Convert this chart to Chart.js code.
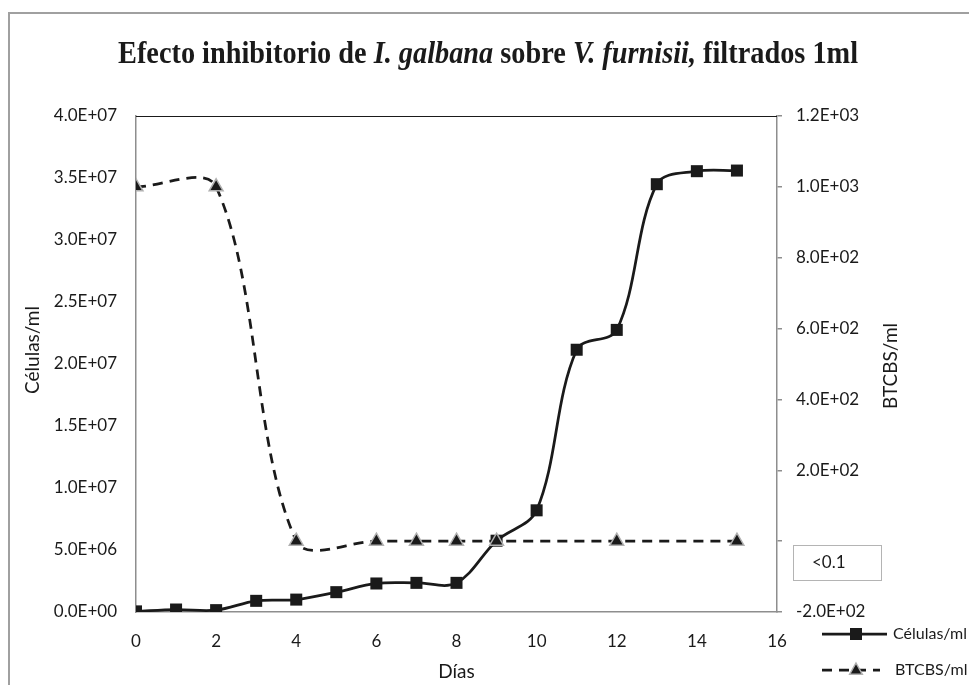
<!DOCTYPE html>
<html>
<head>
<meta charset="utf-8">
<script src="https://cdn.jsdelivr.net/npm/chart.js"></script>
<style>
  body { margin: 0; background: #fff; }
  #wrap { width: 969px; height: 685px; position: relative; }
</style>
</head>
<body>
<div id="wrap"><canvas id="js--chart"></canvas></div>
<script>
// Días
const days = [0, 1, 2, 3, 4, 5, 6, 7, 8, 9, 10, 11, 12, 13, 14, 15];
const celulas = [5e4, 2.0e5, 1.5e5, 9.0e5, 1.0e6, 1.6e6, 2.3e6, 2.35e6, 2.35e6, 5.75e6, 8.2e6, 2.115e7, 2.275e7, 3.45e7, 3.555e7, 3.56e7];

const btcbsDays = [0, 2, 4, 6, 7, 8, 9, 12, 15];
const btcbs = [1000, 1000, 0, 0, 0, 0, 0, 0, 0];

const xTicks = [0, 2, 4, 6, 8, 10, 12, 14, 16];

const ink = '#1a1a1a';
const axisGrey = '#8e8e8e';
const tickFont = { family: 'Lato', size: 17 };
const dash = [10, 7];

function sci(v) {
    let parts = v.toExponential(1).split('e');
    let e = parseInt(parts[1], 10);
    let sign = e < 0 ? '-' : '+';
    let ee = Math.abs(e).toString().padStart(2, '0');
    return parts[0].toUpperCase() + 'E' + sign + ee;
}

function triangle(ctx, x, y, r) {
    ctx.beginPath();
    ctx.moveTo(x, y - r);
    ctx.lineTo(x + r * 0.9, y + r * 0.6);
    ctx.lineTo(x - r * 0.9, y + r * 0.6);
    ctx.closePath();
    ctx.fillStyle = ink;
    ctx.fill();
    ctx.lineWidth = 1.5;
    ctx.strokeStyle = '#b0b0b0';
    ctx.stroke();
}

const extras = {
    id: 'extras',
    afterDraw(chart) {
        const ctx = chart.ctx;
        const a = chart.chartArea;
        ctx.save();

        // outer frame
        ctx.strokeStyle = '#a0a0a0';
        ctx.lineWidth = 2;
        ctx.beginPath();
        ctx.moveTo(9, 685);
        ctx.lineTo(9, 13);
        ctx.lineTo(969, 13);
        ctx.stroke();

        // top border of plot
        ctx.strokeStyle = ink;
        ctx.lineWidth = 1.2;
        ctx.beginPath();
        ctx.moveTo(a.left, a.top + 0.5);
        ctx.lineTo(a.right, a.top + 0.5);
        ctx.stroke();

        // title with italics
        const parts = [
            ['Efecto inhibitorio de ', false],
            ['I. galbana', true],
            [' sobre ', false],
            ['V. furnisii,', true],
            [' filtrados 1ml', false]
        ];
        const fam = '"Liberation Serif", "Times New Roman", serif';
        let total = 0;
        parts.forEach(p => {
            ctx.font = (p[1] ? 'italic ' : '') + 'bold 31px ' + fam;
            total += ctx.measureText(p[0]).width;
        });
        const sx = 740 / total;
        ctx.save();
        ctx.translate(118, 63);
        ctx.scale(sx, 1);
        ctx.fillStyle = ink;
        ctx.textBaseline = 'alphabetic';
        ctx.textAlign = 'left';
        let cx = 0;
        parts.forEach(p => {
            ctx.font = (p[1] ? 'italic ' : '') + 'bold 31px ' + fam;
            ctx.fillText(p[0], cx, 0);
            cx += ctx.measureText(p[0]).width;
        });
        ctx.restore();

        // axis titles
        ctx.fillStyle = ink;
        ctx.font = '19px Lato';
        ctx.textAlign = 'center';
        ctx.textBaseline = 'middle';
        ctx.save();
        ctx.translate(33, 350);
        ctx.rotate(-Math.PI / 2);
        ctx.fillText('Células/ml', 0, 0);
        ctx.restore();
        ctx.save();
        ctx.translate(891, 366);
        ctx.rotate(-Math.PI / 2);
        ctx.fillText('BTCBS/ml', 0, 0);
        ctx.restore();
        ctx.fillText('Días', (a.left + a.right) / 2, 672);

        // "<0.1" box over the zero label
        ctx.fillStyle = '#fff';
        ctx.fillRect(793, 545, 88, 35);
        ctx.strokeStyle = '#b4b4b4';
        ctx.lineWidth = 1;
        ctx.strokeRect(793.5, 545.5, 88, 35);
        ctx.fillStyle = ink;
        ctx.font = '17px Lato';
        ctx.textAlign = 'left';
        ctx.fillText('<0.1', 812, 563);

        // legend
        ctx.strokeStyle = ink;
        ctx.lineWidth = 2.75;
        ctx.beginPath();
        ctx.moveTo(822, 634);
        ctx.lineTo(887, 634);
        ctx.stroke();
        ctx.fillStyle = ink;
        ctx.fillRect(850, 628, 12, 12);
        ctx.setLineDash(dash);
        ctx.beginPath();
        ctx.moveTo(822, 670);
        ctx.lineTo(880, 670);
        ctx.stroke();
        ctx.setLineDash([]);
        triangle(ctx, 856, 670, 7);
        ctx.fillStyle = ink;
        ctx.font = '16px Lato';
        ctx.textAlign = 'left';
        ctx.fillText('Células/ml', 893, 634);
        ctx.fillText('BTCBS/ml', 895, 670);

        ctx.restore();
    }
};

const data = {
    datasets: [
        {
            label: 'BTCBS/ml',
            data: btcbsDays.map((d, i) => ({ x: d, y: btcbs[i] })),
            yAxisID: 'y1',
            borderColor: ink,
            borderWidth: 2.75,
            borderDash: dash,
            pointStyle: 'triangle',
            pointRadius: 8,
            pointBackgroundColor: ink,
            pointBorderColor: '#b0b0b0',
            pointBorderWidth: 1.5,
            tension: 0.33,
            fill: false
        },
        {
            label: 'Células/ml',
            data: days.map((d, i) => ({ x: d, y: celulas[i] })),
            yAxisID: 'y',
            borderColor: ink,
            borderWidth: 2.75,
            pointStyle: 'rect',
            pointRadius: 8.5,
            pointBackgroundColor: ink,
            pointBorderColor: ink,
            pointBorderWidth: 0,
            tension: 0.35,
            fill: false
        }
    ]
};

const config = {
    type: 'line',
    data: data,
    options: {
        responsive: true,
        maintainAspectRatio: false,
        animation: false,
        layout: { padding: { top: 116, left: 0, right: 0, bottom: 0 } },
        plugins: {
            legend: { display: false },
            title: { display: false },
            tooltip: { enabled: false }
        },
        scales: {
            x: {
                type: 'linear',
                min: 0,
                max: 16,
                afterBuildTicks: (scale) => { scale.ticks = xTicks.map(v => ({ value: v })); },
                afterFit: (scale) => { scale.height = 73; },
                grid: { display: false, drawTicks: false },
                border: { display: true, color: axisGrey, width: 1.5 },
                ticks: { color: ink, font: tickFont, padding: 19, maxRotation: 0 }
            },
            y: {
                position: 'left',
                min: 0,
                max: 4e7,
                afterFit: (scale) => { scale.width = 136; },
                grid: { display: false, drawTicks: false },
                border: { display: true, color: axisGrey, width: 1.5 },
                ticks: { stepSize: 5e6, color: ink, font: tickFont, padding: 19, callback: v => sci(v) }
            },
            y1: {
                position: 'right',
                min: -200,
                max: 1200,
                afterFit: (scale) => { scale.width = 192; },
                grid: { display: true, drawOnChartArea: false, drawTicks: true, tickLength: 5, color: axisGrey, lineWidth: 1.5 },
                border: { display: true, color: axisGrey, width: 1.5 },
                ticks: { stepSize: 200, color: ink, font: tickFont, padding: 14, callback: v => (v === 0 ? '' : sci(v)) }
            }
        }
    },
    plugins: [extras]
};

new Chart(document.getElementById('js--chart'), config);
</script>
</body>
</html>
